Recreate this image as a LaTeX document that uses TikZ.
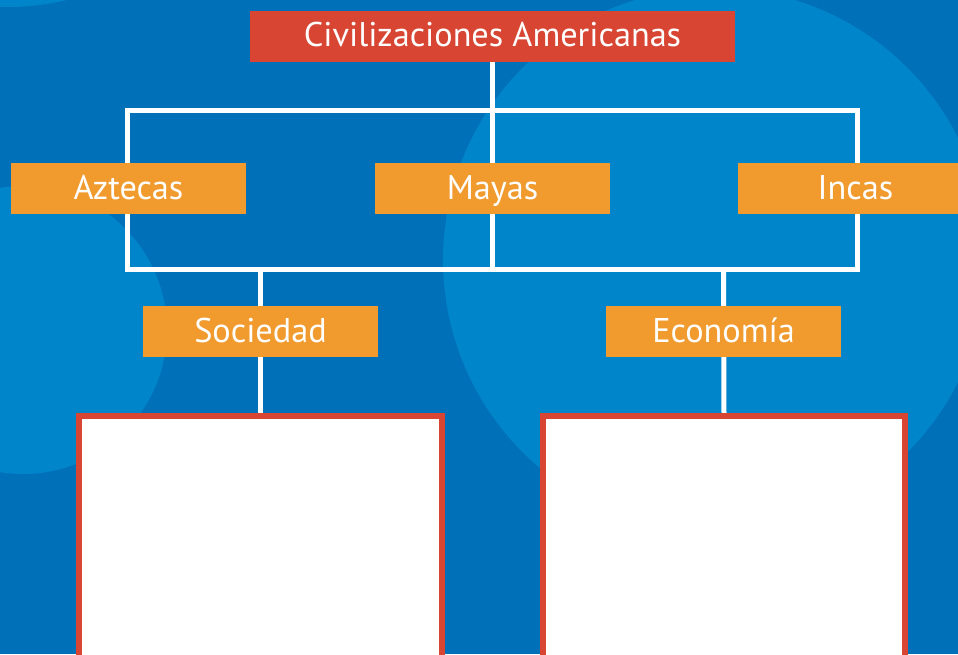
\documentclass[tikz,border=0pt]{standalone}
\usepackage{fontspec}
\setmainfont{PT Sans}
\usetikzlibrary{positioning}
\definecolor{bgblue}{RGB}{0,113,185}
\definecolor{litblue}{RGB}{0,132,202}
\definecolor{titred}{RGB}{216,69,50}
\definecolor{boxorange}{RGB}{241,154,45}
\pgfdeclarelayer{back}
\pgfdeclarelayer{wires}
\pgfsetlayers{back,wires,main}

\begin{document}
\begin{tikzpicture}[
  x=0.02cm, y=-0.02cm,
  font=\fontsize{19.5}{22}\selectfont,
  box/.style={rectangle, inner sep=0pt, minimum height=1.02cm, text=white,
              text height=12pt, text depth=0pt},
  civ/.style={box, fill=boxorange, minimum width=4.7cm},
  topic/.style={box, fill=titred, minimum width=9.7cm},
  answer/.style={rectangle, draw=titred, line width=0.12cm, fill=white,
                 minimum width=7.26cm, minimum height=6.2cm, inner sep=0pt},
  wire/.style={draw=white, line width=0.1cm}
]
\clip (0,0) rectangle (958,654);

% background
\begin{pgfonlayer}{back}
\fill[bgblue] (0,0) rectangle (958,654);
\fill[litblue] (715,260) circle[radius=5.44cm];
\fill[litblue] (23,330) circle[radius=2.88cm];
\fill[litblue] (8,-243) circle[radius=5cm];
\end{pgfonlayer}

% title
\node[topic] (title) at (492.5,36) {Civilizaciones Americanas};

% civilizations
\node[civ] (azt) at (128.5,188.5) {Aztecas};
\node[civ] (may) at (492.5,188.5) {Mayas};
\node[civ] (inc) at (855.5,188.5) {Incas};

% topics
\node[civ] (soc) at (260.5,331.5) {Sociedad};
\node[civ] (eco) at (723.5,331.5) {Economía};

% empty answer boxes
\node[answer, anchor=north] (socbox) at (260.5,413) {};
\node[answer, anchor=north] (ecobox) at (724,413) {};

% frame lines
\coordinate (tl) at (127,110);
\coordinate (br) at (857,269.5);
\begin{pgfonlayer}{wires}
\draw[wire] (tl) rectangle (br);
\draw[wire] (title.south) -- (title |- br);
\draw[wire] (soc |- br) -- (socbox.north);
\draw[wire] (eco |- br) -- (ecobox.north);
\end{pgfonlayer}
\end{tikzpicture}
\end{document}
